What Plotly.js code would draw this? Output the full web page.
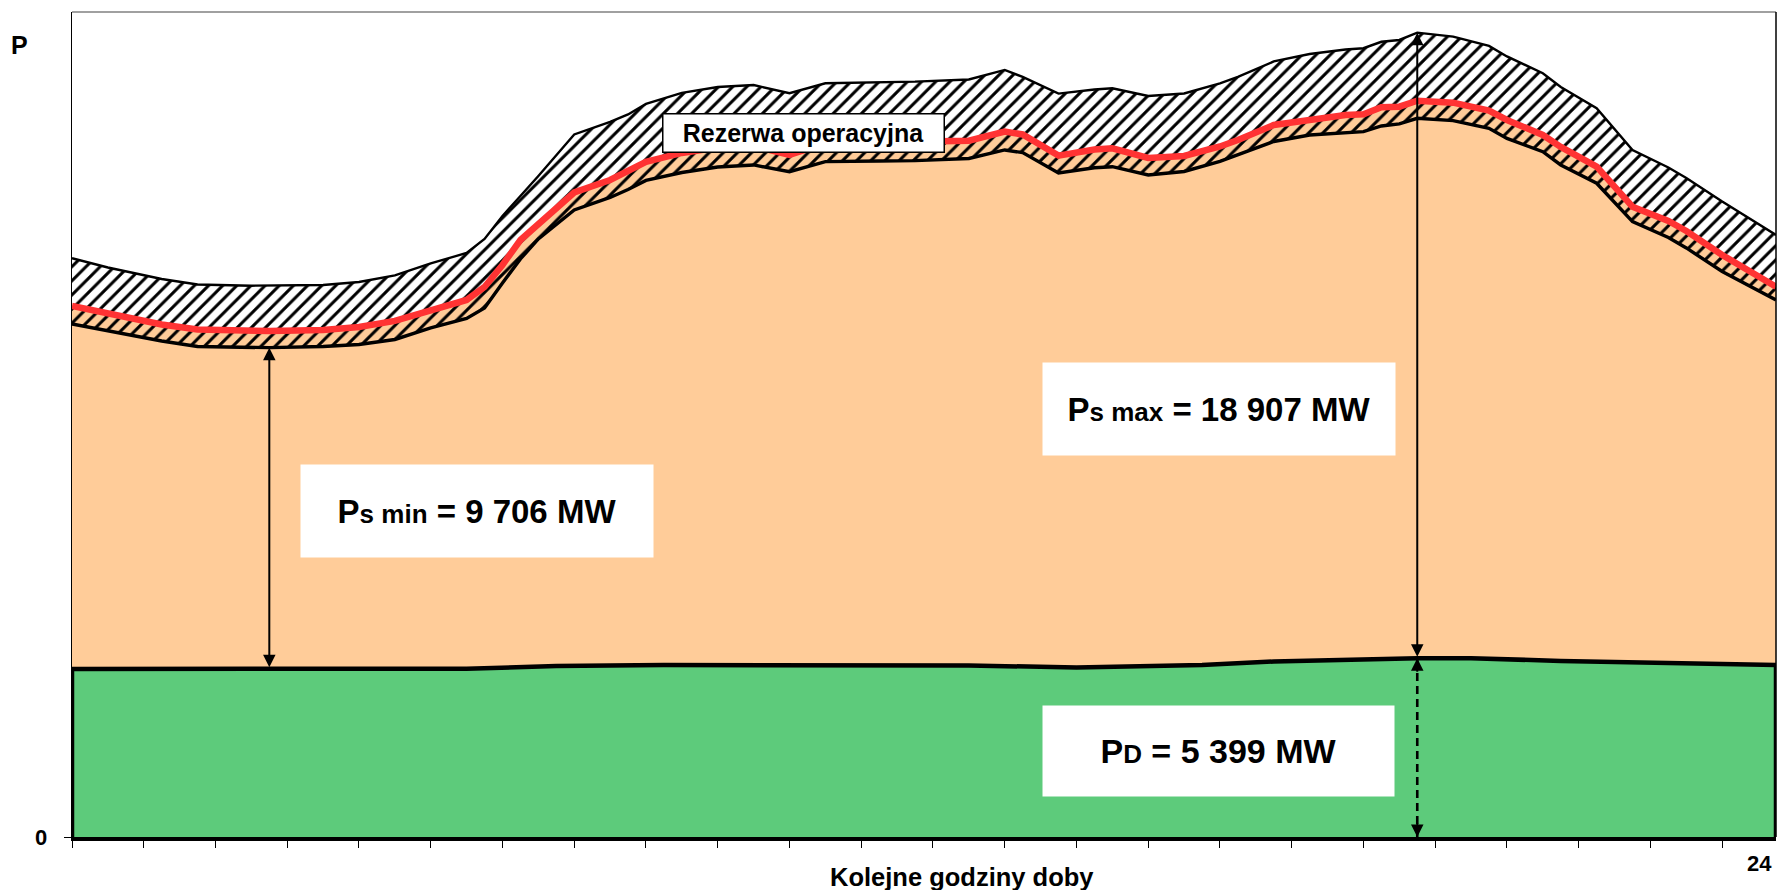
<!DOCTYPE html>
<html>
<head>
<meta charset="utf-8">
<script src="https://cdn.plot.ly/plotly-3.0.1.min.js"></script>
<style>
  html, body { margin: 0; padding: 0; background: #ffffff; }
  #chart { width: 1778px; height: 890px; }
</style>
</head>
<body>
<div id="chart"></div>
<script>
// Daily load profile, MW, by hour of the day (0 – 23.75)
const hours = [0, 0.5, 1.25, 1.75, 2.5, 2.75, 3.5, 4, 4.5, 5,
  5.5, 5.75, 6, 6.25, 6.5, 7, 7.5, 7.75, 8, 8.5,
  9, 9.5, 10, 10.5, 11.25, 11.75, 12.5, 13, 13.25, 13.75,
  14.25, 14.5, 15, 15.5, 16, 16.25, 16.75, 17.25, 17.75, 18,
  18.25, 18.5, 18.75, 19.25, 19.75, 20, 20.5, 20.75, 21.25, 21.75,
  22.25, 22.5, 23, 23.75];

// upper edge of the operating reserve band
const reserveTop = [17488, 17210, 16863, 16697, 16660, 16663, 16681, 16772, 16969, 17331,
  17648, 18072, 18767, 19371, 19975, 21230, 21607, 21834, 22151, 22484,
  22665, 22725, 22475, 22777, 22807, 22825, 22892, 23179, 22967, 22463,
  22589, 22626, 22393, 22469, 22771, 22967, 23436, 23662, 23798, 23835,
  24031, 24085, 24306, 24185, 23904, 23587, 23079, 22665, 22021, 20761,
  20232, 19915, 19205, 18192];

// demand curve (red)
const demand = [16047, 15835, 15488, 15337, 15291, 15291, 15322, 15412, 15594, 15896,
  16228, 16621, 17286, 18041, 18525, 19477, 19855, 20111, 20399, 20670,
  20837, 20882, 20610, 20964, 21003, 21012, 21039, 21314, 21230, 20589,
  20776, 20813, 20519, 20580, 20867, 21063, 21517, 21668, 21819, 21840,
  22049, 22070, 22251, 22190, 21949, 21668, 21214, 20852, 20256, 19048,
  18616, 18313, 17588, 16630];

// lower edge of the operating reserve band
const reserveBase = [15503, 15291, 14989, 14823, 14793, 14787, 14823, 14883, 15034, 15382,
  15669, 15986, 16742, 17467, 18072, 18948, 19326, 19567, 19840, 20081,
  20247, 20308, 20105, 20408, 20429, 20438, 20504, 20761, 20680, 20066,
  20223, 20256, 20006, 20111, 20414, 20610, 21018, 21214, 21275, 21314,
  21486, 21547, 21719, 21647, 21417, 21109, 20710, 20308, 19755, 18594,
  18117, 17800, 17089, 16228];

// P_D base band (green)
const pdHours  = [0, 2.75, 5.5, 6.75, 8.25, 12.5, 14, 15.75, 16.75, 18.75, 19.5, 20.75, 22, 23.75];
const pdValues = [5077, 5081, 5083, 5168, 5198, 5183, 5122, 5198, 5304, 5399, 5405, 5319, 5267, 5198];

const GREEN = '#5DCB7B';
const ORANGE = '#FFCC99';
const RED = '#FF3333';
const FONT = 'Liberation Sans, Arial, Helvetica, sans-serif';
const X_END = 23.75;
const Y_TOP = 24930;

const fmt = v => String(Math.round(v)).replace(/\B(?=(\d{3})+(?!\d))/g, ' ');
const pdAt = h => pdValues[pdHours.indexOf(h)];

// arrows sit at the valley of the reserve base and the peak of the reserve top
const iMin = reserveBase.indexOf(Math.min(...reserveBase));
const iMax = reserveTop.indexOf(Math.max(...reserveTop));
const hMin = hours[iMin];
const hMax = hours[iMax];
const psMin = reserveBase[iMin] - pdAt(hMin);
const psMax = reserveTop[iMax] - pdAt(hMax);
const pdPeak = pdAt(hMax);

const traces = [
  // green base band
  { x: pdHours, y: pdValues, type: 'scatter', mode: 'lines', fill: 'tozeroy',
    fillcolor: GREEN, line: { width: 0, color: 'rgba(0,0,0,0)' } },
  // orange band up to the demand curve
  { x: hours, y: demand, type: 'scatter', mode: 'lines', fill: 'tonexty',
    fillcolor: ORANGE, line: { width: 0, color: 'rgba(0,0,0,0)' } },
  // base of the hatched reserve band
  { x: hours, y: reserveBase, type: 'scatter', mode: 'lines',
    line: { width: 0, color: 'rgba(0,0,0,0)' } },
  // hatched reserve band
  { x: hours, y: reserveTop, type: 'scatter', mode: 'lines', fill: 'tonexty',
    fillcolor: 'rgba(0,0,0,0)',
    fillpattern: { shape: '/', fgcolor: '#000000', bgcolor: 'rgba(0,0,0,0)', size: 10, solidity: 0.3 },
    line: { width: 0, color: 'rgba(0,0,0,0)' } },
  // demand line
  { x: hours, y: demand, type: 'scatter', mode: 'lines', line: { color: RED, width: 6.5 } },
  // reserve outlines
  { x: hours, y: reserveBase, type: 'scatter', mode: 'lines', line: { color: '#000000', width: 3.4 } },
  { x: hours, y: reserveTop, type: 'scatter', mode: 'lines', line: { color: '#000000', width: 2.4 } },
  // outline of the green band
  { x: [0].concat(pdHours, [X_END]), y: [0].concat(pdValues, [0]), type: 'scatter', mode: 'lines',
    line: { color: '#000000', width: 4.5 } },
  // dashed P_D marker
  { x: [hMax, hMax], y: [0, pdPeak], type: 'scatter', mode: 'lines',
    line: { color: '#000000', width: 2.6, dash: '8px,5px' } }
];

const arrowCommon = {
  text: '', showarrow: true, arrowcolor: '#000000', arrowwidth: 2,
  arrowhead: 2, arrowsize: 1.25, startarrowhead: 2, startarrowsize: 1.25
};

const boxFont = { family: FONT, size: 33, color: '#000000', weight: 700 };
const SUB = '<span style="font-size:26px">';

const annotations = [
  // P_s min arrow
  Object.assign({}, arrowCommon, { x: hMin, y: reserveBase[iMin], ax: hMin, ay: pdAt(hMin),
    xref: 'x', yref: 'y', axref: 'x', ayref: 'y', arrowside: 'end+start' }),
  // P_s max arrow
  Object.assign({}, arrowCommon, { x: hMax, y: reserveTop[iMax], ax: hMax, ay: pdPeak,
    xref: 'x', yref: 'y', axref: 'x', ayref: 'y', arrowside: 'end+start' }),
  // heads of the dashed P_D arrow
  Object.assign({}, arrowCommon, { x: hMax, y: pdPeak, ax: 0, ay: 15, xref: 'x', yref: 'y' }),
  Object.assign({}, arrowCommon, { x: hMax, y: 0, ax: 0, ay: -15, xref: 'x', yref: 'y' }),

  // value boxes
  { xref: 'paper', yref: 'paper', x: 0.2377, y: 0.3952, xanchor: 'center', yanchor: 'middle',
    showarrow: false, bgcolor: '#ffffff', borderpad: 0, width: 352, height: 92,
    font: boxFont,
    text: 'P' + SUB + 's min</span> = ' + fmt(psMin) + ' MW' },
  { xref: 'paper', yref: 'paper', x: 0.6731, y: 0.5188, xanchor: 'center', yanchor: 'middle',
    showarrow: false, bgcolor: '#ffffff', borderpad: 0, width: 352, height: 92,
    font: boxFont,
    text: 'P' + SUB + 's max</span> = ' + fmt(psMax) + ' MW' },
  { xref: 'paper', yref: 'paper', x: 0.6728, y: 0.1042, xanchor: 'center', yanchor: 'middle',
    showarrow: false, bgcolor: '#ffffff', borderpad: 0, width: 351, height: 90,
    font: { family: FONT, size: 34, color: '#000000', weight: 700 },
    text: 'P' + SUB + 'D</span> = ' + fmt(pdPeak) + ' MW' },
  { xref: 'paper', yref: 'paper', x: 0.429, y: 0.8533, xanchor: 'center', yanchor: 'middle',
    showarrow: false, bgcolor: '#ffffff', bordercolor: '#000000', borderwidth: 1.5, borderpad: 0,
    width: 280, height: 37,
    font: { family: FONT, size: 25, color: '#000000', weight: 700 },
    text: 'Rezerwa operacyjna' },

  // axis texts
  { xref: 'paper', yref: 'paper', x: -0.0311, y: 0.96, xanchor: 'center', yanchor: 'middle',
    showarrow: false, text: 'P', font: { family: FONT, size: 25, color: '#000000', weight: 700 } },
  { xref: 'paper', yref: 'paper', x: -0.0135, y: 0, xanchor: 'right', yanchor: 'middle',
    showarrow: false, text: '0', font: { family: FONT, size: 22, color: '#000000', weight: 700 } },
  { xref: 'paper', yref: 'paper', x: 0.9906, y: -0.0327, xanchor: 'center', yanchor: 'middle',
    showarrow: false, text: '24', font: { family: FONT, size: 22, color: '#000000', weight: 700 } },
  { xref: 'paper', yref: 'paper', x: 0.5223, y: -0.0485, xanchor: 'center', yanchor: 'middle',
    showarrow: false, text: 'Kolejne godziny doby',
    font: { family: FONT, size: 25.5, color: '#000000', weight: 700 } }
];

const tickHours = [];
for (let h = 0; h <= X_END; h += 1) tickHours.push(h);

const layout = {
  width: 1778, height: 890,
  margin: { l: 72, r: 2, t: 12, b: 53 },
  paper_bgcolor: '#ffffff', plot_bgcolor: '#ffffff',
  showlegend: false, hovermode: false,
  font: { family: FONT, color: '#000000' },
  xaxis: {
    range: [0, X_END], fixedrange: true, showgrid: false, zeroline: false,
    showline: true, linecolor: '#000000', linewidth: 4,
    tickmode: 'array', tickvals: tickHours, ticks: 'outside', ticklen: 7,
    tickwidth: 1, tickcolor: '#000000', showticklabels: false
  },
  yaxis: {
    range: [0, Y_TOP], fixedrange: true, showgrid: false, zeroline: false,
    showline: true, linecolor: '#000000', linewidth: 1.5,
    tickmode: 'array', tickvals: [0], ticks: 'outside', ticklen: 7,
    tickwidth: 1, tickcolor: '#000000', showticklabels: false
  },
  shapes: [
    { type: 'line', xref: 'paper', yref: 'paper', x0: 0, x1: 1, y0: 1, y1: 1,
      line: { color: '#808080', width: 1.5 } },
    { type: 'line', xref: 'paper', yref: 'paper', x0: 1, x1: 1, y0: 0, y1: 1,
      line: { color: '#000000', width: 1.5 } }
  ],
  annotations: annotations
};

Plotly.newPlot('chart', traces, layout, { displayModeBar: false, staticPlot: true });
</script>
</body>
</html>
